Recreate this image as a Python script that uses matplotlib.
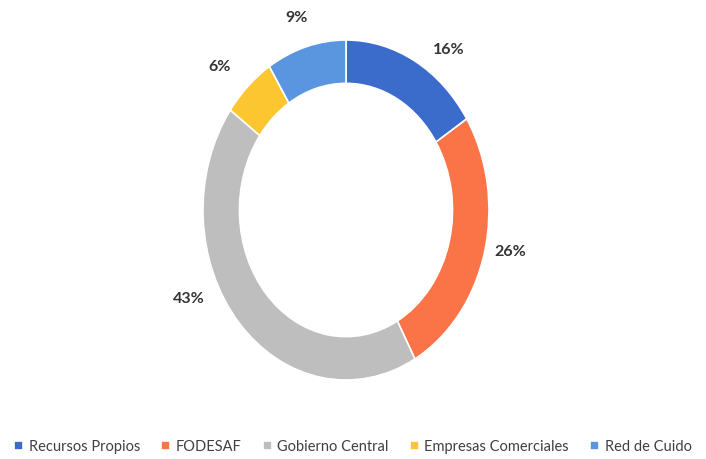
import matplotlib
matplotlib.use("Agg")
import matplotlib.pyplot as plt
import numpy as np

categories = ["Recursos Propios", "FODESAF", "Gobierno Central", "Empresas Comerciales", "Red de Cuido"]
values = [16, 26, 43, 6, 9]
pct_labels = ["16%", "26%", "43%", "6%", "9%"]
colors = ["#3C6CCB", "#FA7448", "#BEBEBE", "#FCC630", "#5A95E0"]
# label placement (angle in degrees, radius) around the ring
label_angle = [52.6, -12.2, 205.4, 136.3, 106.9]
label_radius = [1.185, 1.173, 1.22, 1.22, 1.18]

W, H = 706, 459
fig = plt.figure(figsize=(W / 100, H / 100), dpi=100)
cx, cy, rx, ry = 346, 210, 143, 170
ax = fig.add_axes([(cx - rx) / W, (H - cy - ry) / H, 2 * rx / W, 2 * ry / H])

wedges, _ = ax.pie(values, colors=colors, startangle=90, counterclock=False,
                   radius=1, wedgeprops=dict(width=0.255, edgecolor="white", linewidth=1.2))
ax.set_aspect("auto")
ax.set_xlim(-1, 1)
ax.set_ylim(-1, 1)
ax.axis("off")

for lab, a, r in zip(pct_labels, label_angle, label_radius):
    t = np.deg2rad(a)
    ax.text(r * np.cos(t), r * np.sin(t), lab, ha="center", va="center",
            fontsize=11.5, fontweight="bold", color="#333333", family="Lato", clip_on=False)

leg = fig.legend(wedges, categories, loc="center", bbox_to_anchor=(0.5, 1 - 447 / H),
                 ncol=5, frameon=False, handlelength=0.6, handleheight=0.6,
                 handletextpad=0.4, columnspacing=1.45,
                 prop=dict(family="Lato", size=10.5))
for t in leg.get_texts():
    t.set_color("#404040")

fig.savefig("out.png", dpi=100)
